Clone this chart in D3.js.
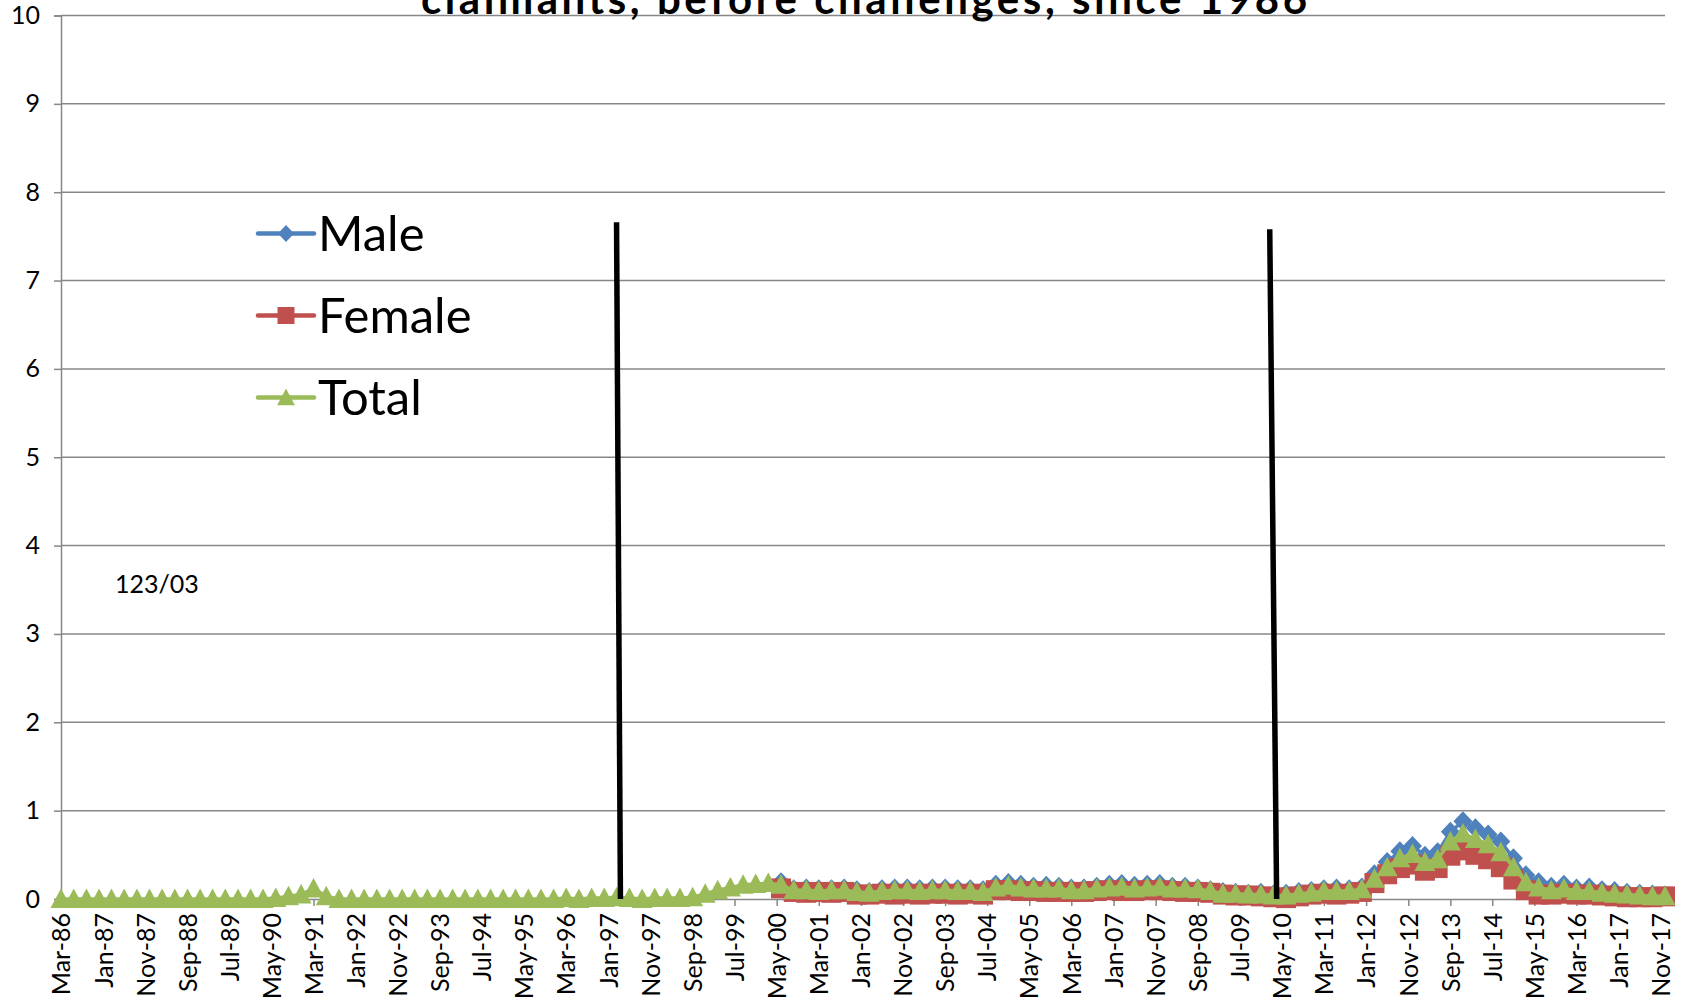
<!DOCTYPE html>
<html>
<head>
<meta charset="utf-8">
<script src="https://cdn.jsdelivr.net/npm/d3@7"></script>
<style>
  body { margin: 0; background: #fff; }
  svg { display: block; }
  text { font-family: Lato, "Open Sans", "DejaVu Sans", sans-serif; }
</style>
</head>
<body>
<svg id="chart" width="1686" height="1003"></svg>
<script>
// Quarterly series, March 1986 to December 2017
const firstQuarter = "1986-03";
const lastQuarter = "2017-12";

const tickLabels = ["Mar-86","Jan-87","Nov-87","Sep-88","Jul-89","May-90","Mar-91","Jan-92","Nov-92",
  "Sep-93","Jul-94","May-95","Mar-96","Jan-97","Nov-97","Sep-98","Jul-99","May-00","Mar-01","Jan-02",
  "Nov-02","Sep-03","Jul-04","May-05","Mar-06","Jan-07","Nov-07","Sep-08","Jul-09","May-10","Mar-11",
  "Jan-12","Nov-12","Sep-13","Jul-14","May-15","Mar-16","Jan-17","Nov-17"];

const yTicks = [0, 1, 2, 3, 4, 5, 6, 7, 8, 9, 10];

const totalValues = [
  0, 0, 0, 0, 0, 0, 0, 0, 0, 0, 0, 0, 0, 0, 0, 0, 0,
  0.01, 0.03, 0.05, 0.12, 0.03,
  0, 0, 0, 0, 0, 0, 0, 0, 0, 0, 0, 0, 0, 0, 0, 0, 0, 0,
  0.01, 0, 0.01, 0.01, 0.02, 0.01, 0, 0.01, 0.01, 0.01,
  0.02, 0.06, 0.10, 0.13, 0.16, 0.17, 0.18,
  0.16, 0.10, 0.10, 0.09, 0.10, 0.10, 0.08, 0.07, 0.09, 0.10, 0.10, 0.09, 0.10, 0.10, 0.09, 0.09, 0.08,
  0.13, 0.15, 0.13, 0.12, 0.12, 0.12, 0.10, 0.10, 0.12, 0.13, 0.14, 0.12, 0.13, 0.14, 0.12, 0.12, 0.11, 0.09,
  0.06, 0.06, 0.05, 0.05, 0.04, 0.04, 0.06, 0.07, 0.09, 0.09, 0.09, 0.11,
  0.23, 0.36, 0.46, 0.51, 0.42, 0.45, 0.65, 0.74, 0.68, 0.62, 0.53, 0.36,
  0.19, 0.13, 0.10, 0.12, 0.09, 0.09, 0.07, 0.06, 0.05, 0.04, 0.03, 0.03
];

const maleValues = [
  null, null, null, null, null, null, null, null, null, null, null, null, null, null, null, null, null,
  null, null, null, null, null,
  null, null, null, null, null, null, null, null, null, null, null, null, null, null, null, null, null, null,
  null, null, null, null, null, null, null, null, null, null,
  null, null, null, null, null, null, null,
  0.19, 0.11, 0.12, 0.11, 0.11, 0.12, 0.10, 0.08, 0.11, 0.12, 0.12, 0.11, 0.12, 0.12, 0.11, 0.11, 0.10,
  0.16, 0.18, 0.16, 0.14, 0.15, 0.14, 0.12, 0.12, 0.14, 0.16, 0.17, 0.15, 0.16, 0.17, 0.14, 0.14, 0.12, 0.10,
  0.08, 0.07, 0.06, 0.07, 0.05, 0.06, 0.08, 0.09, 0.11, 0.12, 0.11, 0.13,
  0.28, 0.42, 0.54, 0.60, 0.49, 0.53, 0.76, 0.88, 0.80, 0.73, 0.65, 0.46,
  0.27, 0.19, 0.14, 0.16, 0.12, 0.13, 0.10, 0.09, 0.07, 0.06, 0.05, 0.04
];

const femaleValues = [
  null, null, null, null, null, null, null, null, null, null, null, null, null, null, null, null, null,
  null, null, null, null, null,
  null, null, null, null, null, null, null, null, null, null, null, null, null, null, null, null, null, null,
  null, null, null, null, null, null, null, null, null, null,
  null, null, null, null, null, null, null,
  0.12, 0.08, 0.07, 0.08, 0.07, 0.08, 0.05, 0.05, 0.06, 0.05, 0.06, 0.05, 0.06, 0.06, 0.05, 0.06, 0.05,
  0.10, 0.10, 0.09, 0.09, 0.08, 0.08, 0.08, 0.08, 0.09, 0.10, 0.09, 0.09, 0.10, 0.10, 0.09, 0.08, 0.08, 0.07,
  0.05, 0.04, 0.04, 0.03, 0.02, 0.01, 0.03, 0.05, 0.06, 0.05, 0.06, 0.08,
  0.18, 0.28, 0.35, 0.39, 0.32, 0.35, 0.49, 0.55, 0.50, 0.45, 0.36, 0.22,
  0.10, 0.05, 0.05, 0.06, 0.05, 0.05, 0.04, 0.03, 0.02, 0.02, 0.02, 0.03
];

const seriesNames = ["Male", "Female", "Total"];
const seriesColors = ["#4F81BD", "#C0504D", "#9BBB59"];

// Hand-drawn vertical rules: [date, value] at top and bottom
const ruleLines = [
  { top: ["1997-02-28", 7.66], bottom: ["1997-03-28", 0] },
  { top: ["2010-02-03", 7.58], bottom: ["2010-03-25", 0] }
];

const titleLine = "claimants, before challenges, since 1986";
const noteText = "123/03";

// ---- layout ----
const svg = d3.select("#chart");
const plot = { left: 61, right: 1665, top: 15.5, bottom: 899 };

const parseMonth = d3.utcParse("%Y-%m");
const parseDay = d3.utcParse("%Y-%m-%d");
const parseTick = d3.utcParse("%b-%y");

const startDate = parseMonth(firstQuarter);
const endDate = parseMonth(lastQuarter);
const quarters = d3.utcMonth.range(startDate, d3.utcMonth.offset(endDate, 1), 3);

const x = d3.scaleUtc().domain([startDate, endDate]).range([plot.left, plot.right]);
const y = d3.scaleLinear().domain([0, 10]).range([plot.bottom, plot.top]);

svg.append("rect").attr("width", 1686).attr("height", 1003).attr("fill", "#fff");

// horizontal gridlines
svg.append("g").selectAll("line").data(yTicks.filter(d => d > 0)).join("line")
  .attr("x1", plot.left).attr("x2", plot.right)
  .attr("y1", d => y(d)).attr("y2", d => y(d))
  .attr("stroke", "#878787").attr("stroke-width", 1.5);

// y axis
const yAxis = svg.append("g").attr("transform", `translate(${plot.left},0)`)
  .call(d3.axisLeft(y).tickValues(yTicks).tickSize(7).tickPadding(14).tickFormat(d3.format("d")));
yAxis.select(".domain").attr("stroke", "#878787").attr("stroke-width", 1.5);
yAxis.selectAll(".tick line").attr("stroke", "#878787").attr("stroke-width", 1.5);
yAxis.selectAll(".tick text").attr("font-size", 25).attr("fill", "#000")
  .style("font-family", "Lato, sans-serif");

// x axis (date ticks every ten months)
const tickDates = tickLabels.map(parseTick);
const xAxis = svg.append("g").attr("transform", `translate(0,${plot.bottom})`)
  .call(d3.axisBottom(x).tickValues(tickDates).tickSize(7).tickSizeOuter(0)
    .tickFormat((d, i) => tickLabels[i]));
xAxis.select(".domain").attr("stroke", "#878787").attr("stroke-width", 1.5);
xAxis.selectAll(".tick line").attr("stroke", "#878787").attr("stroke-width", 1.5);
xAxis.selectAll(".tick text")
  .attr("font-size", 25).attr("fill", "#000")
  .attr("transform", "rotate(-90)")
  .attr("x", -14).attr("y", 0).attr("dy", "0.35em")
  .attr("text-anchor", "end")
  .style("font-family", "Lato, sans-serif");

// series
const markerPaths = [
  "M0,-10L9.5,0L0,10L-9.5,0Z",          // diamond
  "M-10,-10H10V10H-10Z",                // square
  "M0,-10.5L10.5,9L-10.5,9Z"            // triangle
];
const seriesValues = [maleValues, femaleValues, totalValues];

const line = d3.line()
  .defined(d => d.v !== null)
  .x(d => x(d.date)).y(d => y(d.v));

seriesValues.forEach((vals, s) => {
  const pts = quarters.map((date, i) => ({ date, v: vals[i] }));
  const g = svg.append("g");
  g.append("path").datum(pts)
    .attr("d", line).attr("fill", "none")
    .attr("stroke", seriesColors[s]).attr("stroke-width", 3.5)
    .attr("stroke-linejoin", "round").attr("stroke-linecap", "round");
  g.selectAll("path.mk").data(pts.filter(d => d.v !== null)).join("path")
    .attr("class", "mk")
    .attr("d", markerPaths[s])
    .attr("transform", d => `translate(${x(d.date)},${y(d.v)})`)
    .attr("fill", seriesColors[s]);
});

// vertical rules
svg.append("g").selectAll("line").data(ruleLines).join("line")
  .attr("x1", d => x(parseDay(d.top[0]))).attr("y1", d => y(d.top[1]))
  .attr("x2", d => x(parseDay(d.bottom[0]))).attr("y2", d => y(d.bottom[1]))
  .attr("stroke", "#000").attr("stroke-width", 5.5);

// legend
const legend = svg.append("g");
const legendX = 258, legendLineLen = 56, legendRows = [233.5, 315.5, 397.5];
seriesNames.forEach((name, s) => {
  const g = legend.append("g").attr("transform", `translate(${legendX},${legendRows[s]})`);
  g.append("line").attr("x1", 0).attr("x2", legendLineLen)
    .attr("stroke", seriesColors[s]).attr("stroke-width", 4.5).attr("stroke-linecap", "round");
  g.append("path").attr("d", markerPaths[s])
    .attr("transform", `translate(${legendLineLen / 2},0) scale(0.85)`)
    .attr("fill", seriesColors[s]);
  g.append("text").attr("x", 60).attr("y", 17)
    .attr("font-size", 49).attr("fill", "#000").text(name);
});

// note
svg.append("text").attr("x", 115).attr("y", 593)
  .attr("font-size", 25).attr("fill", "#000").text(noteText);

// title (second line, top edge of the page)
svg.append("text").attr("x", 864).attr("y", 13.5)
  .attr("text-anchor", "middle").attr("font-size", 42).attr("font-weight", 700)
  .attr("textLength", 886).attr("lengthAdjust", "spacing")
  .attr("fill", "#000").text(titleLine);
</script>
</body>
</html>
